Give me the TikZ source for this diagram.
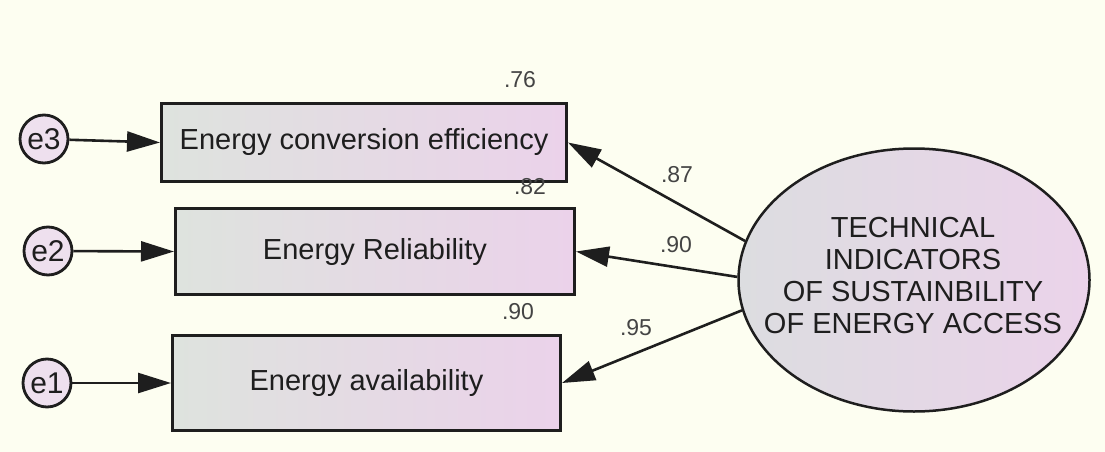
\documentclass[tikz,border=0pt]{standalone}
\usepackage{fontspec}
\setmainfont{Liberation Sans}
\usetikzlibrary{arrows.meta,shapes.geometric}

\definecolor{paper}{HTML}{FDFEF1}
\definecolor{boxleft}{HTML}{DEE3DE}
\definecolor{boxright}{HTML}{EBD2EA}
\definecolor{ellleft}{HTML}{DCDDE0}
\definecolor{ellright}{HTML}{EBD3EA}
\definecolor{errfill}{HTML}{EEE0EE}
\definecolor{ink}{HTML}{1E1E1E}
\definecolor{coefgray}{HTML}{444444}

\begin{document}
\begin{tikzpicture}[x=1pt,y=-1pt,
  obsbox/.style={rectangle, draw=ink, line width=3pt, left color=boxleft, right color=boxright,
    inner sep=0pt, text=ink, font=\fontsize{29}{34}\selectfont},
  latent/.style={ellipse, draw=ink, line width=2.5pt, left color=ellleft, right color=ellright,
    inner sep=0pt, minimum width=351pt, minimum height=263pt},
  lattext/.style={align=center, text=ink, inner sep=0pt, font=\fontsize{29}{32}\selectfont},
  errnode/.style={circle, draw=ink, line width=2.8pt, fill=errfill, minimum size=48pt,
    inner sep=0pt, text=ink, font=\fontsize{30}{30}\selectfont},
  regarrow/.style={draw=ink, line width=2.6pt, -{Triangle[length=33pt,width=20pt]}},
  coef/.style={text=coefgray, inner sep=0pt, font=\fontsize{23}{23}\selectfont}
]
% canvas
\fill[paper] (0,0) rectangle (1105,452);
\useasboundingbox (0,0) rectangle (1105,452);

% observed indicators
\node[obsbox, minimum width=405pt, minimum height=78pt] (b1) at (364,142.5) {Energy conversion efficiency};
\node[obsbox, minimum width=399pt, minimum height=86pt] (b2) at (375,251.5) {Energy Reliability};
\node[obsbox, minimum width=388pt, minimum height=95pt] (b3) at (366.5,383) {Energy availability};

% error terms
\node[errnode] (e3) at (44,139) {e3};
\node[errnode] (e2) at (48,251) {e2};
\node[errnode] (e1) at (47,383) {e1};

% latent construct
\node[latent] (lv) at (914,280) {};
\node[lattext] (lvt) at (913,276) {TECHNICAL\\INDICATORS\\OF SUSTAINBILITY\\OF ENERGY ACCESS};

% error paths
\draw[regarrow] (e3) -- (b1.west);
\draw[regarrow] (e2) -- (b2.west);
\draw[regarrow] (e1) -- (b3.west);

% loadings
\draw[regarrow] (lv.167.7) -- (b1.east);
\draw[regarrow] (lv.179.7) -- (b2.east);
\draw[regarrow] (lv.190.9) -- (b3.east);

% squared multiple correlations
\node[coef] (r1) at (520,80) {.76};
\node[coef] (r2) at (530,187) {.82};
\node[coef] (r3) at (518,312) {.90};

% standardized loadings
\node[coef] (l1) at (677,175) {.87};
\node[coef] (l2) at (676,245) {.90};
\node[coef] (l3) at (636,328) {.95};
\end{tikzpicture}
\end{document}
